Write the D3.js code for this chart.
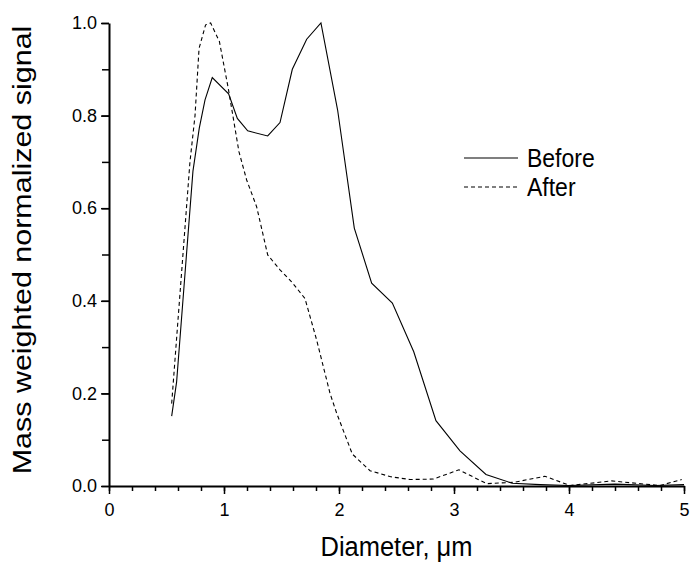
<!DOCTYPE html>
<html><head><meta charset="utf-8">
<script src="https://cdn.jsdelivr.net/npm/d3@7"></script>
<style>body{margin:0;background:#fff}svg{display:block}text{font-family:"Liberation Sans",Arial,sans-serif;fill:#000}</style>
</head><body>
<svg id="c" width="691" height="564"></svg>
<script>
// Data
const beforeD = [0.545,0.588,0.73,0.785,0.835,0.898,1.04,1.116,1.206,1.38,1.487,1.594,1.719,1.843,1.988,2.133,2.284,2.464,2.65,2.843,3.052,3.278,3.505,3.75,4.0,4.4,4.75,5.0];
const beforeV = [0.151,0.225,0.68,0.773,0.834,0.882,0.847,0.794,0.767,0.756,0.785,0.9,0.965,1.0,0.812,0.557,0.438,0.395,0.29,0.141,0.076,0.025,0.006,0.003,0.001,0.004,0.001,0.003];
const afterD = [0.545,0.704,0.748,0.783,0.84,0.884,0.96,1.037,1.13,1.197,1.284,1.38,1.487,1.588,1.704,1.806,1.922,1.98,2.116,2.27,2.45,2.617,2.82,3.043,3.284,3.52,3.79,4.01,4.37,4.79,4.98];
const afterV = [0.178,0.70,0.80,0.945,0.996,1.0,0.96,0.859,0.722,0.661,0.603,0.499,0.467,0.441,0.405,0.315,0.2,0.157,0.069,0.033,0.02,0.014,0.015,0.035,0.005,0.008,0.021,0.001,0.011,0.001,0.014];
const xTicks = [0,1,2,3,4,5];
const yTicks = [0.0,0.2,0.4,0.6,0.8,1.0];
const seriesNames = ["Before","After"];
const xTitle = "Diameter, \u03bcm";
const yTitle = "Mass weighted normalized signal";

const svg = d3.select("#c");
const L = 109, R = 684, T = 23, B = 486;
const x = d3.scaleLinear().domain([0,5]).range([L,R]);
const y = d3.scaleLinear().domain([0,1]).range([B,T]);

// minor ticks
const yMinor = d3.range(0,1.0001,0.1);
const xMinor = d3.range(0,5.0001,0.2);
svg.append("g").attr("transform",`translate(${L},0)`)
  .call(d3.axisLeft(y).tickValues(yMinor).tickSize(7).tickFormat(""))
  .call(g=>{g.select(".domain").remove();g.selectAll("line").attr("stroke","#000").attr("stroke-width",1.5);});
svg.append("g").attr("transform",`translate(0,${B})`)
  .call(d3.axisBottom(x).tickValues(xMinor).tickSize(5).tickFormat(""))
  .call(g=>{g.select(".domain").remove();g.selectAll("line").attr("stroke","#000").attr("stroke-width",1.5);});

// major axes
const ya = svg.append("g").attr("transform",`translate(${L},0)`)
  .call(d3.axisLeft(y).tickValues(yTicks).tickSize(8).tickPadding(4).tickFormat(d3.format(".1f")).tickSizeOuter(0));
ya.select(".domain").attr("stroke","#000").attr("stroke-width",2);
ya.selectAll("line").attr("stroke","#000").attr("stroke-width",1.5);
ya.selectAll("text").attr("font-size",18).attr("font-family","Liberation Sans, Arial, sans-serif");

const xa = svg.append("g").attr("transform",`translate(0,${B})`)
  .call(d3.axisBottom(x).tickValues(xTicks).tickSize(8).tickPadding(9).tickFormat(d3.format("d")).tickSizeOuter(0));
xa.select(".domain").attr("stroke","#000").attr("stroke-width",2);
xa.selectAll("line").attr("stroke","#000").attr("stroke-width",1.5);
xa.selectAll("text").attr("font-size",18).attr("font-family","Liberation Sans, Arial, sans-serif");

// lines
const line = d3.line().x(d=>x(d[0])).y(d=>y(d[1]));
const before = beforeD.map((d,i)=>[d,beforeV[i]]);
const after = afterD.map((d,i)=>[d,afterV[i]]);
svg.append("path").datum(before).attr("d",line).attr("fill","none").attr("stroke","#000").attr("stroke-width",1.1);
svg.append("path").datum(after).attr("d",line).attr("fill","none").attr("stroke","#000").attr("stroke-width",1.1).attr("stroke-dasharray","4,3");

// legend
const leg = svg.append("g");
const dashes = [null,"4,3"];
seriesNames.forEach((n,i)=>{
  const yy = 158 + i*29;
  leg.append("line").attr("x1",464).attr("x2",518).attr("y1",yy).attr("y2",yy)
    .attr("stroke","#000").attr("stroke-width",1.1).attr("stroke-dasharray",dashes[i]);
  leg.append("text").attr("transform",`translate(527,${yy+8.5}) scale(1,1.1)`).attr("font-size",23).text(n);
});

// titles
svg.append("text").attr("transform",`translate(${(L+R)/2},556) scale(1,1.05)`).attr("text-anchor","middle").attr("font-size",25.5).text(xTitle);
svg.append("text").attr("transform",`translate(31,250) scale(1,1.15) rotate(-90)`).attr("text-anchor","middle").attr("font-size",26.5).text(yTitle);
</script>
</body></html>
